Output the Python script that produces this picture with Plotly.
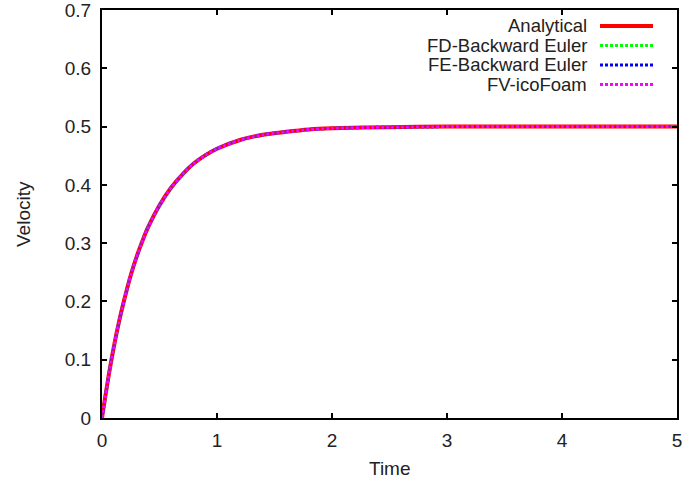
import plotly.graph_objects as go

# ---- data ----
time = [0, 0.05, 0.1, 0.15, 0.2, 0.25, 0.3, 0.35, 0.4, 0.5, 0.6, 0.7, 0.8, 0.9,
        1.0, 1.2, 1.4, 1.6, 1.8, 2.0, 2.5, 3.0, 3.5, 4.0, 4.5, 5.0]
v_analytical = [0, 0.063, 0.119, 0.167, 0.208, 0.245, 0.276, 0.303, 0.327, 0.365, 0.395, 0.418,
                0.437, 0.451, 0.462, 0.477, 0.486, 0.491, 0.495, 0.497, 0.499, 0.5, 0.5, 0.5, 0.5, 0.5]
v_fd = list(v_analytical)
v_fe = list(v_analytical)
v_fv = list(v_analytical)

series_names = ["Analytical", "FD-Backward Euler", "FE-Backward Euler", "FV-icoFoam"]
series_values = [v_analytical, v_fd, v_fe, v_fv]
series_colors = ["#ff0000", "#00ff00", "#0000ff", "#ff00ff"]
series_dash = ["solid", "3px,2px", "3px,2px", "3px,2px"]
series_width = [4, 3, 3, 3]

x_ticks = [0, 1, 2, 3, 4, 5]
y_ticks = [0, 0.1, 0.2, 0.3, 0.4, 0.5, 0.6, 0.7]
x_title = "Time"
y_title = "Velocity"

FONT = "Liberation Sans, Arial, sans-serif"
TXT = "#222222"

fig = go.Figure()
for name, vals, col, dash, w in zip(series_names, series_values, series_colors, series_dash, series_width):
    fig.add_trace(go.Scatter(x=time, y=vals, mode="lines", name=name, showlegend=False,
                             line=dict(color=col, width=w, dash=dash, shape="spline", smoothing=0.8)))

# plot area in pixels: left 102, right 677, top 10, bottom 418
L, R, T, B = 102, 677, 10, 418
def px_x(p):
    return (p - L) / (R - L)
def px_y(p):
    return (B - p) / (B - T)

# gnuplot-style key: text right-aligned, sample to the right
row_y = [26, 45.5, 65, 84.5]
shapes = []
annotations = []
for name, col, dash, w, ry in zip(series_names, series_colors, series_dash, series_width, row_y):
    annotations.append(dict(xref="paper", yref="paper", x=px_x(589), y=px_y(ry),
                            text=name, showarrow=False, xanchor="right", yanchor="middle",
                            font=dict(family=FONT, size=18.5, color=TXT)))
    shapes.append(dict(type="line", xref="paper", yref="paper",
                       x0=px_x(600), x1=px_x(653), y0=px_y(ry), y1=px_y(ry),
                       line=dict(color=col, width=w, dash=dash)))

# axis titles
annotations.append(dict(xref="paper", yref="paper", x=px_x((L + R) / 2), y=px_y(468),
                        text=x_title, showarrow=False, xanchor="center", yanchor="middle",
                        font=dict(family=FONT, size=19, color=TXT)))
annotations.append(dict(xref="paper", yref="paper", x=px_x(23), y=px_y((T + B) / 2),
                        text=y_title, showarrow=False, xanchor="center", yanchor="middle",
                        textangle=-90, font=dict(family=FONT, size=19, color=TXT)))

axis_common = dict(showline=True, linecolor="black", linewidth=2, mirror="ticks",
                   ticks="inside", ticklen=5, tickwidth=2, tickcolor="black",
                   showgrid=False, zeroline=False, automargin=False,
                   ticklabeloverflow="allow",
                   tickfont=dict(family=FONT, size=19, color=TXT))

fig.update_layout(
    width=685, height=481,
    margin=dict(l=L, r=685 - R, t=T, b=481 - B),
    plot_bgcolor="white", paper_bgcolor="white",
    xaxis=dict(range=[0, 5], tickvals=x_ticks, ticktext=[str(t) for t in x_ticks],
               ticklabelstandoff=4, **axis_common),
    yaxis=dict(range=[0, 0.7], tickvals=y_ticks, ticktext=[("%g" % t) for t in y_ticks],
               ticklabelstandoff=5, **axis_common),
    shapes=shapes,
    annotations=annotations,
)

fig.write_html("out.html")
